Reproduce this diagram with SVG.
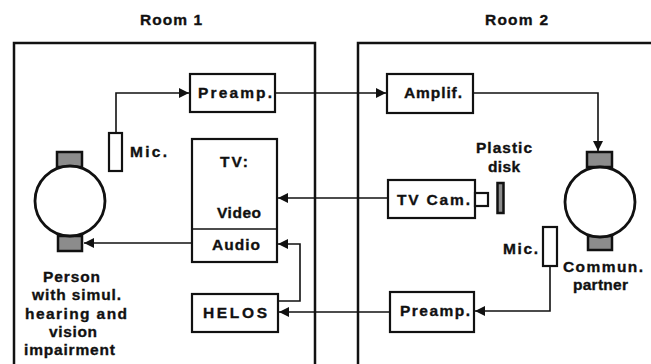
<svg xmlns="http://www.w3.org/2000/svg" width="651" height="364" viewBox="0 0 651 364">
<style>
text{font-family:"Liberation Sans",Arial,sans-serif;font-weight:bold;font-size:15.5px;fill:#111;stroke:#111;stroke-width:0.35}
.room{fill:none;stroke:#111;stroke-width:2.5}
.box{fill:#fff;stroke:#111;stroke-width:2.2}
.ear{fill:#8c8c8c;stroke:#111;stroke-width:2.5}
.head{fill:#fff;stroke:#111;stroke-width:2.8}
.c{fill:none;stroke:#111;stroke-width:1.6}
</style>
<defs>
<marker id="ah" viewBox="0 0 10 10" refX="10" refY="5" markerWidth="10" markerHeight="10" markerUnits="userSpaceOnUse" orient="auto">
<path d="M0,0 L10,5 L0,10 z" fill="#111"/>
</marker>
</defs>
<rect width="651" height="364" fill="#fff"/>
<g id="room1">
<path class="room" d="M14,370 V43 H315 V370"/>
<text x="140" y="25" textLength="62" lengthAdjust="spacing">Room 1</text>
</g>
<g id="room2">
<path class="room" d="M358,370 V43 H660"/>
<text x="485" y="25" textLength="63" lengthAdjust="spacing">Room 2</text>
</g>
<g id="connectors">
<path class="c" d="M116,133 V93 H189" marker-end="url(#ah)"/>
<path class="c" d="M275,93 H386" marker-end="url(#ah)"/>
<path class="c" d="M473,93 H598 V151" marker-end="url(#ah)"/>
<path class="c" d="M388,198 H278" marker-end="url(#ah)"/>
<path class="c" d="M192,243 H84" marker-end="url(#ah)"/>
<path class="c" d="M278,301 H300 V244 H278" marker-end="url(#ah)"/>
<path class="c" d="M550,266 V311 H475" marker-end="url(#ah)"/>
<path class="c" d="M390,312 H279" marker-end="url(#ah)"/>
</g>
<g id="person">
<rect class="ear" x="57" y="152" width="25" height="15"/>
<rect class="ear" x="58" y="236" width="24" height="15"/>
<circle class="head" cx="70" cy="201" r="35"/>
<text x="43" y="282" textLength="57" lengthAdjust="spacing">Person</text>
<text x="32" y="300" textLength="89" lengthAdjust="spacing">with simul.</text>
<text x="25" y="319" textLength="102" lengthAdjust="spacing">hearing and</text>
<text x="49" y="337" textLength="48" lengthAdjust="spacing">vision</text>
<text x="24" y="355" textLength="91" lengthAdjust="spacing">impairment</text>
</g>
<g id="mic1">
<rect class="box" x="109" y="133" width="13" height="38"/>
<text x="130" y="157" textLength="37" lengthAdjust="spacing">Mic.</text>
</g>
<g id="preamp1">
<rect class="box" x="190" y="74" width="85" height="38"/>
<text x="198" y="98" textLength="74" lengthAdjust="spacing">Preamp.</text>
</g>
<g id="tv">
<rect class="box" x="192" y="139" width="85" height="123"/>
<line x1="192" y1="229" x2="277" y2="229" stroke="#111" stroke-width="1.6"/>
<text x="220" y="167" textLength="28" lengthAdjust="spacing">TV:</text>
<text x="217" y="218" textLength="44" lengthAdjust="spacing">Video</text>
<text x="212" y="250" textLength="48" lengthAdjust="spacing">Audio</text>
</g>
<g id="helos">
<rect class="box" x="192" y="294" width="86" height="38"/>
<text x="203" y="318" textLength="64" lengthAdjust="spacing">HELOS</text>
</g>
<g id="amplif">
<rect class="box" x="387" y="74" width="86" height="39"/>
<text x="404" y="98" textLength="58" lengthAdjust="spacing">Amplif.</text>
</g>
<g id="tvcam">
<rect class="box" x="388" y="180" width="87" height="38"/>
<rect class="box" x="475" y="193" width="13" height="13"/>
<text x="397" y="205" textLength="73" lengthAdjust="spacing">TV  Cam.</text>
</g>
<g id="disk">
<rect class="ear" x="497.5" y="183" width="6" height="30" stroke-width="2"/>
<text x="476" y="153" textLength="56" lengthAdjust="spacing">Plastic</text>
<text x="488" y="172" textLength="32" lengthAdjust="spacing">disk</text>
</g>
<g id="partner">
<rect class="ear" x="587" y="152" width="25" height="15"/>
<rect class="ear" x="588" y="236" width="24" height="14"/>
<circle class="head" cx="600" cy="202" r="35"/>
<text x="563" y="272" textLength="80" lengthAdjust="spacing">Commun.</text>
<text x="573" y="290" textLength="55" lengthAdjust="spacing">partner</text>
</g>
<g id="mic2">
<rect class="box" x="543" y="227" width="14" height="39"/>
<text x="503" y="254" textLength="35" lengthAdjust="spacing">Mic.</text>
</g>
<g id="preamp2">
<rect class="box" x="390" y="292" width="84" height="40"/>
<text x="400" y="316" textLength="70" lengthAdjust="spacing">Preamp.</text>
</g>
</svg>
